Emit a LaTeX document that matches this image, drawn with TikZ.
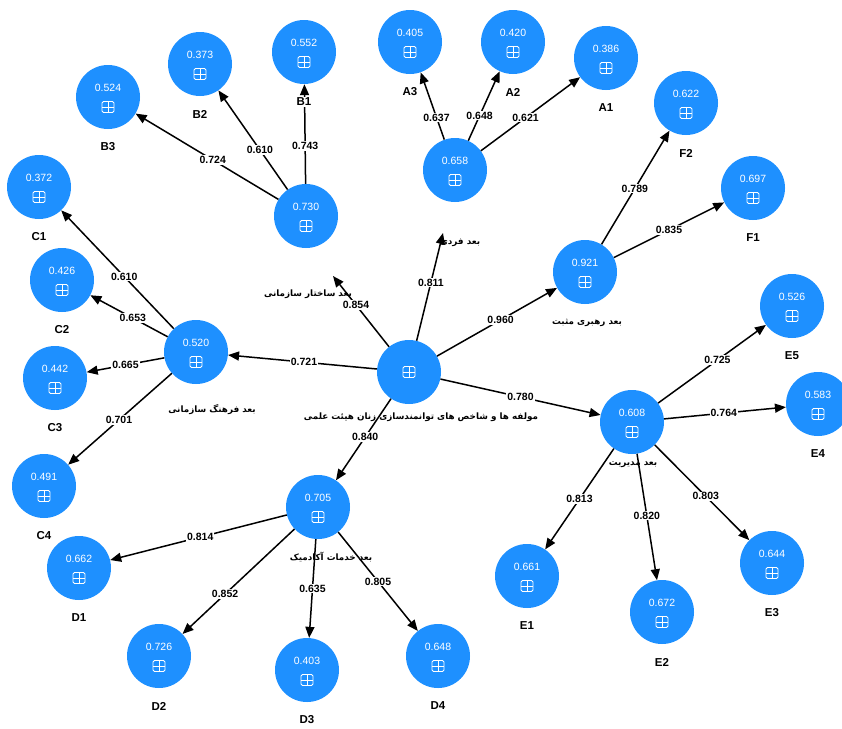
\documentclass[tikz,border=0pt]{standalone}
\usepackage{fontspec}
\setmainfont{Liberation Sans}
\newfontfamily\fafont[Script=Arabic]{DejaVu Sans}
\TeXXeTstate=1
\usetikzlibrary{arrows.meta,calc}
\definecolor{nodeblue}{RGB}{30,144,255}
\tikzset{
  circ/.style={circle, fill=nodeblue, minimum size=64pt, inner sep=0pt},
  val/.style={text=white, inner sep=0pt, font=\fontsize{10.5}{12}\selectfont},
  lab/.style={fill=white, inner sep=1pt, font=\bfseries\fontsize{11.5}{13}\selectfont},
  elab/.style={fill=white, inner sep=1pt, font=\bfseries\fontsize{10.5}{12}\selectfont},
  fa/.style={inner sep=0pt, font=\fafont\bfseries\fontsize{8.8}{10}\selectfont},
  arr/.style={draw=black, line width=1.5pt, -{Triangle[length=11pt,width=9pt]}},
  plusbox/.pic={
    \draw[white, line width=0.8pt, rounded corners=1.5pt] (-6,-5.5) rectangle (6,5.5);
    \draw[white, line width=0.8pt] (-6,0) -- (6,0) (0,-5.5) -- (0,5.5);
  }
}
\newcommand\latent[4]{%
  \node[circ] (#1) at (#2,#3) {};
  \node[val] at (#2,#3-9) {#4};
  \pic at (#2,#3+10) {plusbox};
}
\newcommand\indlab[1]{\node[lab] (#1lab) at ($(#1)+(0,50)$) {#1};}
\begin{document}
\begin{tikzpicture}[x=1pt,y=-1pt]
\useasboundingbox[fill=white] (0,0) rectangle (842,728);

% central
\node[circ] (C) at (409,372) {};
\pic at (409,372) {plusbox};
\node[fa] (Clab) at (421,417) {\beginR مولفه ها و شاخص های توانمندسازی زنان هیئت علمی\endR};

% latent constructs
\latent{S}{306}{216}{0.730}
\latent{I}{455}{170}{0.658}
\latent{L}{585}{272}{0.921}
\latent{Cu}{196}{352}{0.520}
\latent{M}{632}{422}{0.608}
\latent{Ac}{318}{507}{0.705}

\node[fa] (Slab) at (308,294) {\beginR بعد ساختار سازمانی\endR};
\node[fa] (Ilab) at (460,243) {\beginR بعد فردی\endR};
\node[fa] (Llab) at (587,323) {\beginR بعد رهبری مثبت\endR};
\node[fa] (Culab) at (212,410) {\beginR بعد فرهنگ سازمانی\endR};
\node[fa] (Mlab) at (633,465) {\beginR بعد مدیریت\endR};
\node[fa] (Aclab) at (331,557) {\beginR بعد خدمات آکادمیک\endR};

\coordinate (Stip) at (333,276);
\coordinate (Itip) at (443,233);

% indicators
\latent{B1}{304}{52}{0.552}
\latent{B2}{200}{64}{0.373}
\latent{B3}{108}{97}{0.524}
\latent{A3}{410}{42}{0.405}
\latent{A2}{513}{42}{0.420}
\latent{A1}{606}{58}{0.386}
\latent{F2}{686}{103}{0.622}
\latent{F1}{753}{188}{0.697}
\latent{E5}{792}{306}{0.526}
\latent{E4}{818}{404}{0.583}
\latent{E3}{772}{563}{0.644}
\latent{E2}{662}{612}{0.672}
\latent{E1}{527}{576}{0.661}
\latent{D4}{438}{656}{0.648}
\latent{D3}{307}{670}{0.403}
\latent{D2}{159}{656}{0.726}
\latent{D1}{79}{568}{0.662}
\latent{C4}{44}{486}{0.491}
\latent{C3}{55}{378}{0.442}
\latent{C2}{62}{280}{0.426}
\latent{C1}{39}{187}{0.372}

% structural paths
\draw[arr] (C) -- node[elab,pos=0.59]{0.854} (Stip);
\draw[arr] (C) -- node[elab,pos=0.54]{0.811} (Itip);
\draw[arr] (C) -- node[elab,pos=0.53]{0.960} (L);
\draw[arr] (C) -- node[elab,pos=0.49]{0.721} (Cu);
\draw[arr] (C) -- node[elab,pos=0.50]{0.780} (M);
\draw[arr] (C) -- node[elab,pos=0.47]{0.840} (Ac);

% loadings
\draw[arr] (S) -- node[elab,pos=0.38]{0.743} (B1);
\draw[arr] (S) -- node[elab,pos=0.40]{0.610} (B2);
\draw[arr] (S) -- node[elab,pos=0.46]{0.724} (B3);
\draw[arr] (I) -- node[elab,pos=0.33]{0.637} (A3);
\draw[arr] (I) -- node[elab,pos=0.36]{0.648} (A2);
\draw[arr] (I) -- node[elab,pos=0.45]{0.621} (A1);
\draw[arr] (L) -- node[elab,pos=0.49]{0.789} (F2);
\draw[arr] (L) -- node[elab,pos=0.50]{0.835} (F1);
\draw[arr] (Cu) -- node[elab,pos=0.44]{0.610} (C1);
\draw[arr] (Cu) -- node[elab,pos=0.45]{0.653} (C2);
\draw[arr] (Cu) -- node[elab,pos=0.50]{0.665} (C3);
\draw[arr] (Cu) -- node[elab,pos=0.51]{0.701} (C4);
\draw[arr] (Ac) -- node[elab,pos=0.49]{0.814} (D1);
\draw[arr] (Ac) -- node[elab,pos=0.62]{0.852} (D2);
\draw[arr] (Ac) -- node[elab,pos=0.50]{0.635} (D3);
\draw[arr] (Ac) -- node[elab,pos=0.50]{0.805} (D4);
\draw[arr] (M) -- node[elab,pos=0.50]{0.813} (E1);
\draw[arr] (M) -- node[elab,pos=0.49]{0.820} (E2);
\draw[arr] (M) -- node[elab,pos=0.54]{0.803} (E3);
\draw[arr] (M) -- node[elab,pos=0.49]{0.764} (E4);
\draw[arr] (M) -- node[elab,pos=0.55]{0.725} (E5);

% indicator labels
\indlab{B1}\indlab{B2}\indlab{B3}
\indlab{A1}\indlab{A2}\indlab{A3}
\indlab{F1}\indlab{F2}
\indlab{E1}\indlab{E2}\indlab{E3}\indlab{E4}\indlab{E5}
\indlab{D1}\indlab{D2}\indlab{D3}\indlab{D4}
\indlab{C1}\indlab{C2}\indlab{C3}\indlab{C4}
\end{tikzpicture}
\end{document}
